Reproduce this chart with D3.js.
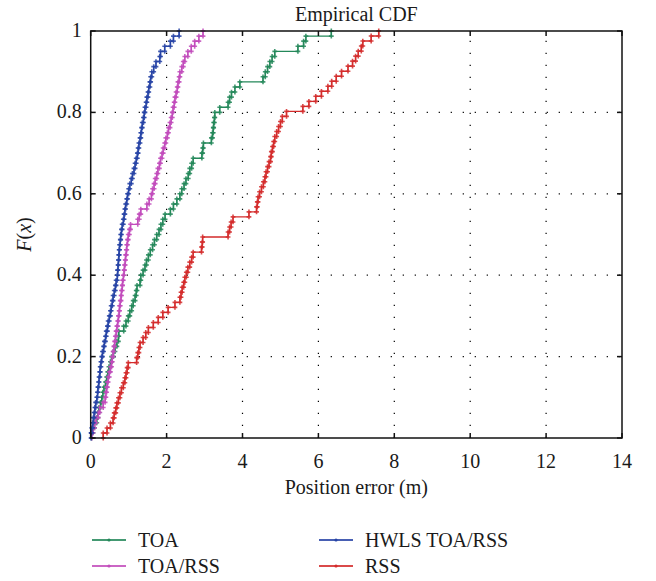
<!DOCTYPE html>
<html>
<head>
<meta charset="utf-8">
<script src="https://cdn.jsdelivr.net/npm/d3@7"></script>
<style>
body { margin: 0; background: #fff; }
text { font-family: "Liberation Serif", "DejaVu Serif", serif; fill: #1a1a1a; }
</style>
</head>
<body>
<div id="canvas"></div>
<script>
// sorted position errors (m), 80 runs per method
var toaErr = [0.02,0.06,0.10,0.16,0.19,0.22,0.26,0.29,0.32,0.35,0.39,0.42,0.45,0.48,0.52,0.55,
	0.60,0.64,0.69,0.73,0.74,0.87,0.93,0.99,1.03,1.08,1.12,1.17,1.20,1.22,1.30,1.32,
	1.38,1.43,1.47,1.52,1.57,1.63,1.68,1.74,1.80,1.85,1.90,1.96,2.10,2.18,2.27,2.35,
	2.40,2.46,2.51,2.57,2.61,2.66,2.70,2.93,2.95,2.97,3.18,3.21,3.23,3.24,3.26,3.27,
	3.40,3.62,3.66,3.71,3.80,3.93,4.54,4.60,4.66,4.72,4.78,4.85,5.46,5.61,5.67,6.34];
var toaRssErr = [0.03,0.06,0.10,0.14,0.20,0.24,0.33,0.38,0.40,0.42,0.44,0.46,0.49,0.52,0.55,0.57,
	0.59,0.61,0.63,0.65,0.67,0.69,0.71,0.73,0.75,0.76,0.78,0.80,0.81,0.83,0.84,0.86,
	0.88,0.89,0.91,0.92,0.94,0.95,0.97,0.99,1.02,1.05,1.24,1.28,1.32,1.48,1.54,1.60,
	1.63,1.67,1.70,1.74,1.77,1.81,1.84,1.88,1.91,1.95,1.98,2.02,2.05,2.09,2.12,2.15,
	2.17,2.20,2.22,2.25,2.28,2.30,2.33,2.35,2.40,2.44,2.48,2.56,2.65,2.74,2.85,2.96];
var hwlsErr = [0.01,0.03,0.05,0.07,0.09,0.11,0.13,0.16,0.18,0.19,0.21,0.22,0.24,0.25,0.27,0.29,
	0.31,0.34,0.36,0.39,0.41,0.44,0.46,0.49,0.52,0.54,0.57,0.59,0.62,0.65,0.67,0.70,
	0.71,0.72,0.73,0.74,0.75,0.76,0.78,0.79,0.81,0.83,0.86,0.88,0.90,0.92,0.95,0.97,
	1.00,1.03,1.07,1.10,1.14,1.17,1.20,1.23,1.25,1.27,1.30,1.32,1.34,1.36,1.39,1.41,
	1.43,1.46,1.48,1.51,1.53,1.56,1.58,1.61,1.66,1.72,1.82,1.84,1.95,2.10,2.18,2.33];
var rssErr = [0.33,0.43,0.52,0.59,0.62,0.66,0.69,0.73,0.77,0.81,0.86,0.90,0.93,0.96,0.99,1.21,
	1.24,1.27,1.30,1.38,1.45,1.52,1.65,1.78,1.90,2.04,2.22,2.35,2.38,2.41,2.45,2.48,
	2.52,2.56,2.61,2.66,2.70,2.92,2.94,2.95,3.62,3.66,3.70,3.75,4.17,4.37,4.39,4.41,
	4.45,4.50,4.55,4.59,4.62,4.66,4.70,4.74,4.76,4.79,4.82,4.85,4.90,4.95,5.00,5.05,
	5.16,5.59,5.75,5.93,6.08,6.25,6.35,6.47,6.61,6.78,6.90,6.98,7.05,7.13,7.17,7.39,7.59];

var seriesNames = ["TOA", "TOA/RSS", "HWLS TOA/RSS", "RSS"];
var seriesColors = ["#24885a", "#c24cbc", "#2744a6", "#d42b2b"];
var xTicks = [0, 2, 4, 6, 8, 10, 12, 14];
var yTicks = [0, 0.2, 0.4, 0.6, 0.8, 1];

var w = 656, h = 581;
var margin = {left: 90.7, right: 34, top: 31, bottom: 143};
var fs = 20;

var svg = d3.select("#canvas")
	.append("svg")
	.attr("width", w)
	.attr("height", h);

var xScale = d3.scaleLinear()
	.domain([0, 14])
	.range([margin.left, w - margin.right]);

var yScale = d3.scaleLinear()
	.domain([0, 1])
	.range([h - margin.bottom, margin.top]);

var x0 = xScale(0), x1 = xScale(14), y0 = yScale(0), y1 = yScale(1);

// dotted grid
svg.selectAll(".gridV")
	.data(xTicks.slice(1, -1))
	.enter()
	.append("line")
	.attr("x1", function(d){ return xScale(d); })
	.attr("x2", function(d){ return xScale(d); })
	.attr("y1", y0)
	.attr("y2", y1)
	.attr("stroke", "#000")
	.attr("stroke-width", 1.2)
	.attr("stroke-dasharray", "1.2,10.8");

svg.selectAll(".gridH")
	.data(yTicks.slice(1, -1))
	.enter()
	.append("line")
	.attr("x1", x0)
	.attr("x2", x1)
	.attr("y1", function(d){ return yScale(d); })
	.attr("y2", function(d){ return yScale(d); })
	.attr("stroke", "#000")
	.attr("stroke-width", 1.2)
	.attr("stroke-dasharray", "1.2,10.8");

// ecdf curves
var datasets = [toaErr, toaRssErr, hwlsErr, rssErr];

var stairs = d3.line()
	.x(function(d){ return xScale(d[0]); })
	.y(function(d){ return yScale(d[1]); })
	.curve(d3.curveStepAfter);

var plot = svg.append("g");

datasets.forEach(function(errs, k){
	var n = errs.length;
	var pts = [[errs[0], 0]];
	errs.forEach(function(v, i){ pts.push([v, (i + 1) / n]); });

	var corners = [];
	errs.forEach(function(v, i){
		corners.push([v, i / n]);
		corners.push([v, (i + 1) / n]);
	});

	plot.append("path")
		.attr("d", stairs(pts))
		.attr("fill", "none")
		.attr("stroke", seriesColors[k])
		.attr("stroke-width", 1.4);

	plot.selectAll(".mk" + k)
		.data(corners)
		.enter()
		.append("path")
		.attr("transform", function(d){
			return "translate(" + xScale(d[0]) + "," + yScale(d[1]) + ")";
		})
		.attr("d", "M-2.4,0H2.4M0,-2.4V2.4")
		.attr("stroke", seriesColors[k])
		.attr("stroke-width", 1.6)
		.attr("opacity", 0.85);
});

// axes box with inward ticks
var frame = svg.append("g");

frame.append("rect")
	.attr("x", x0)
	.attr("y", y1)
	.attr("width", x1 - x0)
	.attr("height", y0 - y1)
	.attr("fill", "none")
	.attr("stroke", "#111")
	.attr("stroke-width", 1.5);

var tk = 5;
xTicks.forEach(function(t){
	frame.append("line")
		.attr("x1", xScale(t)).attr("x2", xScale(t))
		.attr("y1", y0).attr("y2", y0 - tk)
		.attr("stroke", "#111").attr("stroke-width", 1.5);
	frame.append("line")
		.attr("x1", xScale(t)).attr("x2", xScale(t))
		.attr("y1", y1).attr("y2", y1 + tk)
		.attr("stroke", "#111").attr("stroke-width", 1.5);
	frame.append("text")
		.attr("x", xScale(t))
		.attr("y", y0 + 30)
		.attr("text-anchor", "middle")
		.attr("font-size", fs)
		.text(t);
});

yTicks.forEach(function(t){
	frame.append("line")
		.attr("x1", x0).attr("x2", x0 + tk)
		.attr("y1", yScale(t)).attr("y2", yScale(t))
		.attr("stroke", "#111").attr("stroke-width", 1.5);
	frame.append("line")
		.attr("x1", x1).attr("x2", x1 - tk)
		.attr("y1", yScale(t)).attr("y2", yScale(t))
		.attr("stroke", "#111").attr("stroke-width", 1.5);
	frame.append("text")
		.attr("x", x0 - 9)
		.attr("y", yScale(t) + 6)
		.attr("text-anchor", "end")
		.attr("font-size", fs)
		.text(t);
});

// titles
svg.append("text")
	.attr("x", (x0 + x1) / 2)
	.attr("y", 21)
	.attr("text-anchor", "middle")
	.attr("font-size", fs)
	.text("Empirical CDF");

svg.append("text")
	.attr("x", (x0 + x1) / 2)
	.attr("y", 494)
	.attr("text-anchor", "middle")
	.attr("font-size", fs)
	.text("Position error (m)");

var yl = svg.append("text")
	.attr("transform", "translate(31," + ((y0 + y1) / 2) + ") rotate(-90)")
	.attr("text-anchor", "middle")
	.attr("font-size", fs);
yl.append("tspan").attr("font-style", "italic").text("F");
yl.append("tspan").text("(");
yl.append("tspan").attr("font-style", "italic").text("x");
yl.append("tspan").text(")");

// legend
var legendPos = [[92, 540], [92, 566], [319, 540], [319, 566]];
var legend = svg.selectAll(".legend")
	.data(seriesNames)
	.enter()
	.append("g")
	.attr("class", "legend")
	.attr("transform", function(d, i){
		return "translate(" + legendPos[i][0] + "," + legendPos[i][1] + ")";
	})
	.each(function(d, i){
		var g = d3.select(this);
		g.append("line")
			.attr("x1", 0).attr("x2", 34)
			.attr("y1", 0).attr("y2", 0)
			.attr("stroke", seriesColors[i])
			.attr("stroke-width", 2)
			.attr("opacity", 0.85);
		g.append("circle")
			.attr("cx", 17).attr("cy", 0).attr("r", 1.6)
			.attr("fill", seriesColors[i]);
		g.append("text")
			.attr("x", 46)
			.attr("y", 7)
			.attr("font-size", fs)
			.text(d);
	});
</script>
</body>
</html>
